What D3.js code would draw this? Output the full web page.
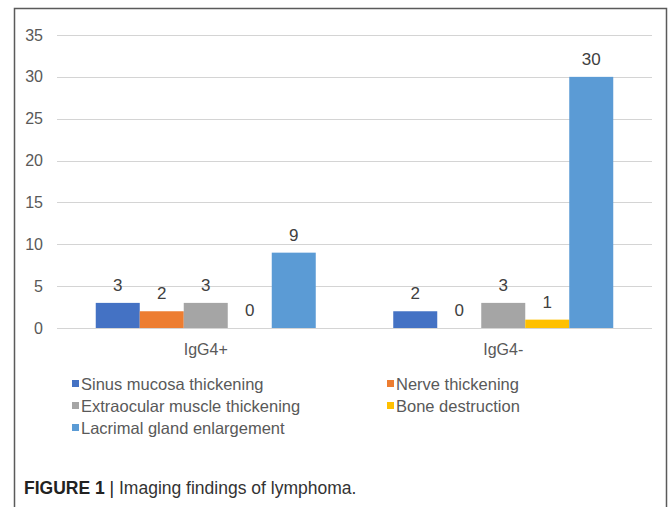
<!DOCTYPE html>
<html>
<head>
<meta charset="utf-8">
<script src="https://cdn.jsdelivr.net/npm/d3@7"></script>
<style>
  body { margin: 0; background: #fff; }
  svg text { font-family: "Liberation Sans", Arial, sans-serif; }
</style>
</head>
<body>
<div id="chart"></div>
<script>
// Data
const groups = ["IgG4+", "IgG4-"];
const seriesNames = ["Sinus mucosa thickening", "Nerve thickening", "Extraocular muscle thickening", "Bone destruction", "Lacrimal gland enlargement"];
const sinusValues = [3, 2];
const nerveValues = [2, 0];
const extraocularValues = [3, 3];
const boneValues = [0, 1];
const lacrimalValues = [9, 30];
const yTicks = [0, 5, 10, 15, 20, 25, 30, 35];
const colors = ["#4472C4", "#ED7D31", "#A5A5A5", "#FFC000", "#5B9BD5"];

const seriesValues = [sinusValues, nerveValues, extraocularValues, boneValues, lacrimalValues];
const data = [];
groups.forEach((g, gi) => {
    seriesNames.forEach((s, si) => {
        data.push({ group: g, series: s, value: seriesValues[si][gi], color: colors[si] });
    });
});

const W = 669, H = 507;
const svg = d3.select("#chart").append("svg")
    .attr("width", W)
    .attr("height", H);

// outer frame (open at bottom)
svg.append("path")
    .attr("d", "M14.5," + H + " V8.5 H666.5 V" + H)
    .attr("fill", "none")
    .attr("stroke", "#5a5a5a")
    .attr("stroke-width", 1.5);

// Scales
const x = d3.scaleBand()
    .domain(groups)
    .range([57, 652]);
const inner = d3.scaleBand()
    .domain(seriesNames)
    .range([0, 220])
    .padding(0);
const y = d3.scaleLinear()
    .domain([0, 35])
    .range([328, 35]);

// Gridlines
svg.append("g")
    .selectAll("line")
    .data(yTicks)
    .join("line")
    .attr("x1", 57)
    .attr("x2", 652)
    .attr("y1", d => Math.round(y(d)) + 0.5)
    .attr("y2", d => Math.round(y(d)) + 0.5)
    .attr("stroke", "#d4d4d4")
    .attr("stroke-width", 1.2);

// Y axis labels
const yAxis = svg.append("g")
    .attr("transform", "translate(57,0)")
    .call(d3.axisLeft(y).tickValues(yTicks).tickSize(0).tickPadding(14));
yAxis.select(".domain").remove();
yAxis.selectAll("text")
    .style("font-size", "16px")
    .style("font-family", "'Liberation Sans', Arial, sans-serif")
    .attr("fill", "#595959");

// X axis labels
const xAxis = svg.append("g")
    .attr("transform", "translate(0,328)")
    .call(d3.axisBottom(x).tickSize(0).tickPadding(16));
xAxis.select(".domain").remove();
xAxis.selectAll("text")
    .style("font-size", "16px")
    .style("font-family", "'Liberation Sans', Arial, sans-serif")
    .attr("fill", "#595959");

// Bars
const barX = d => x(d.group) + (x.bandwidth() - 220) / 2 + inner(d.series);
svg.append("g")
    .selectAll("rect")
    .data(data)
    .join("rect")
    .attr("x", barX)
    .attr("y", d => y(d.value))
    .attr("width", inner.bandwidth())
    .attr("height", d => y(0) - y(d.value))
    .attr("fill", d => d.color);

// Value labels
svg.append("g")
    .selectAll("text")
    .data(data)
    .join("text")
    .attr("x", d => barX(d) + inner.bandwidth() / 2)
    .attr("y", d => y(d.value) - 12)
    .attr("text-anchor", "middle")
    .style("font-size", "17px")
    .attr("fill", "#404040")
    .text(d => d.value);

// Legend
const legendPos = [[72, 384], [387, 384], [72, 406], [387, 406], [72, 428]];
const legend = svg.append("g")
    .selectAll("g")
    .data(seriesNames)
    .join("g")
    .attr("transform", (d, i) => "translate(" + legendPos[i][0] + "," + legendPos[i][1] + ")");
legend.append("rect")
    .attr("x", 0)
    .attr("y", -4)
    .attr("width", 7)
    .attr("height", 7)
    .attr("fill", (d, i) => colors[i]);
legend.append("text")
    .attr("x", 9)
    .attr("y", 0)
    .attr("dy", "0.35em")
    .style("font-size", "16.5px")
    .attr("fill", "#595959")
    .text(d => d);

// Caption
const cap = svg.append("text")
    .attr("x", 24)
    .attr("y", 494)
    .style("font-size", "17.5px")
    .attr("fill", "#222");
cap.append("tspan").style("font-weight", "bold").text("FIGURE 1");
cap.append("tspan").attr("fill", "#222").text(" | ");
cap.append("tspan").attr("fill", "#333").text("Imaging findings of lymphoma.");
</script>
</body>
</html>
